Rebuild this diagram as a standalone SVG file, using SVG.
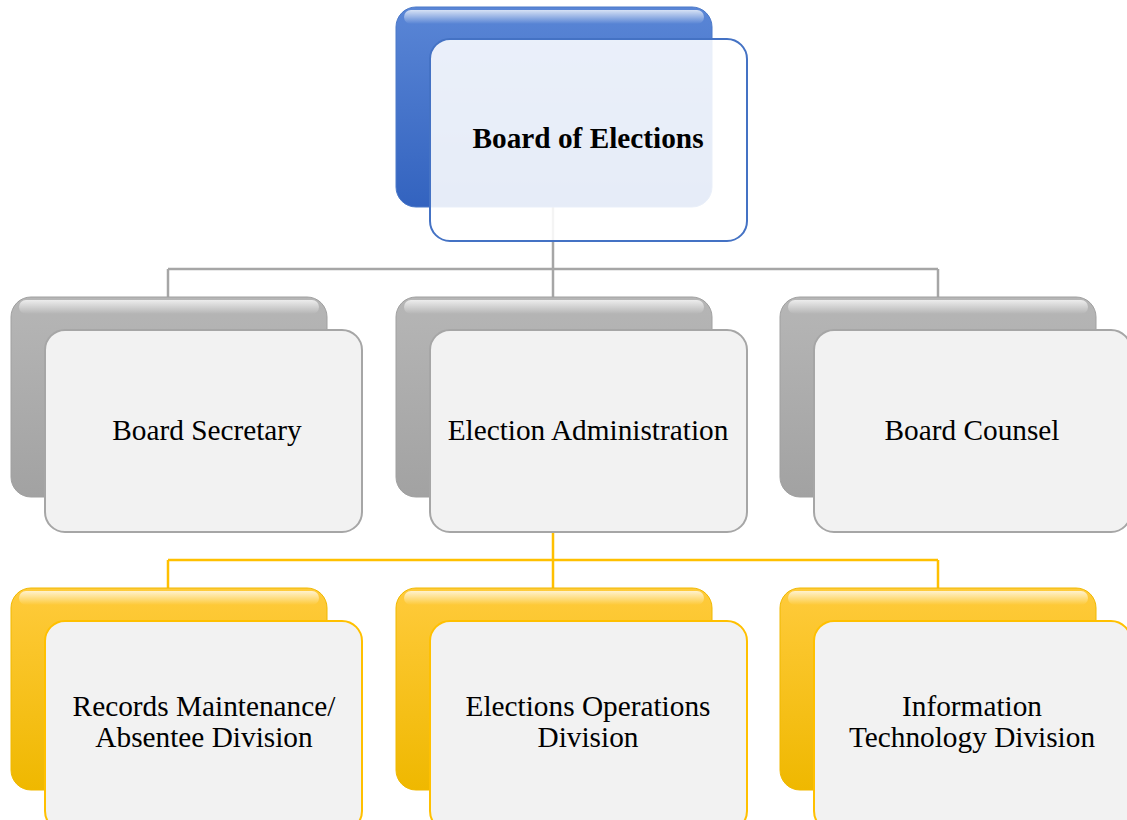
<svg xmlns="http://www.w3.org/2000/svg" width="1127" height="820" viewBox="0 0 1127 820">
<defs>
<linearGradient id="gBlue" x1="0" y1="0" x2="0" y2="1"><stop offset="0" stop-color="#5a86d6"/><stop offset="1" stop-color="#3363bf"/></linearGradient>
<linearGradient id="gGray" x1="0" y1="0" x2="0" y2="1"><stop offset="0" stop-color="#b6b6b6"/><stop offset="1" stop-color="#a2a2a2"/></linearGradient>
<linearGradient id="gYel" x1="0" y1="0" x2="0" y2="1"><stop offset="0" stop-color="#ffcb3c"/><stop offset="1" stop-color="#efb800"/></linearGradient>
<linearGradient id="gHi" x1="0" y1="0" x2="0" y2="1"><stop offset="0" stop-color="#fff" stop-opacity="0.75"/><stop offset="1" stop-color="#fff" stop-opacity="0"/></linearGradient>
</defs>
<style>
.conn-gray{fill:none;stroke:#a6a6a6;stroke-width:2.5}
.conn-yel{fill:none;stroke:#ffc000;stroke-width:2.5}
.back-blue{fill:url(#gBlue);stroke:#4a78c8;stroke-width:1}
.back-gray{fill:url(#gGray);stroke:#a0a0a0;stroke-width:1}
.back-yel{fill:url(#gYel);stroke:#f0b800;stroke-width:1}
.hi{fill:url(#gHi)}
.front-top{fill:#fff;fill-opacity:0.88;stroke:#4472c4;stroke-width:2}
.front-gray{fill:#f2f2f2;stroke:#a6a6a6;stroke-width:2}
.front-yel{fill:#f2f2f2;stroke:#ffc000;stroke-width:2}
.t{font-family:"Liberation Serif","Times New Roman",serif;font-size:29.3px;fill:#000;text-anchor:middle}
.tb{font-weight:bold}
</style>
<rect width="1127" height="820" fill="#fff"/>
<g id="connectors">
<path class="conn-gray" d="M553 207 V269 M168 269 H938 M168 269 V297 M553 269 V297 M938 269 V297"/>
<path class="conn-yel" d="M553 532 V560 M168 560 H938 M168 560 V588 M553 560 V588 M938 560 V588"/>
</g>
<g id="node-board-of-elections">
<rect class="back-blue" x="396" y="7" width="316" height="200" rx="20"/>
<rect class="hi" x="404" y="10" width="300" height="14" rx="7"/>
<rect class="front-top" x="430" y="39" width="317" height="202" rx="20"/>
<text class="t tb" x="588" y="148">Board of Elections</text>
</g>
<g id="node-board-secretary">
<rect class="back-gray" x="11" y="297" width="316" height="200" rx="20"/>
<rect class="hi" x="19" y="300" width="300" height="14" rx="7"/>
<rect class="front-gray" x="45" y="330" width="317" height="202" rx="20"/>
<text class="t" x="207" y="440">Board Secretary</text>
</g>
<g id="node-election-administration">
<rect class="back-gray" x="396" y="297" width="316" height="200" rx="20"/>
<rect class="hi" x="404" y="300" width="300" height="14" rx="7"/>
<rect class="front-gray" x="430" y="330" width="317" height="202" rx="20"/>
<text class="t" x="588" y="440">Election Administration</text>
</g>
<g id="node-board-counsel">
<rect class="back-gray" x="780" y="297" width="316" height="200" rx="20"/>
<rect class="hi" x="788" y="300" width="300" height="14" rx="7"/>
<rect class="front-gray" x="814" y="330" width="317" height="202" rx="20"/>
<text class="t" x="972" y="440">Board Counsel</text>
</g>
<g id="node-records-maintenance">
<rect class="back-yel" x="11" y="588" width="316" height="202" rx="20"/>
<rect class="hi" x="19" y="591" width="300" height="14" rx="7"/>
<rect class="front-yel" x="45" y="621" width="317" height="210" rx="20"/>
<text class="t" x="204" y="716">Records Maintenance/</text>
<text class="t" x="204" y="747">Absentee Division</text>
</g>
<g id="node-elections-operations">
<rect class="back-yel" x="396" y="588" width="316" height="202" rx="20"/>
<rect class="hi" x="404" y="591" width="300" height="14" rx="7"/>
<rect class="front-yel" x="430" y="621" width="317" height="210" rx="20"/>
<text class="t" x="588" y="716">Elections Operations</text>
<text class="t" x="588" y="747">Division</text>
</g>
<g id="node-information-technology">
<rect class="back-yel" x="780" y="588" width="316" height="202" rx="20"/>
<rect class="hi" x="788" y="591" width="300" height="14" rx="7"/>
<rect class="front-yel" x="814" y="621" width="317" height="210" rx="20"/>
<text class="t" x="972" y="716">Information</text>
<text class="t" x="972" y="747">Technology Division</text>
</g>
</svg>
